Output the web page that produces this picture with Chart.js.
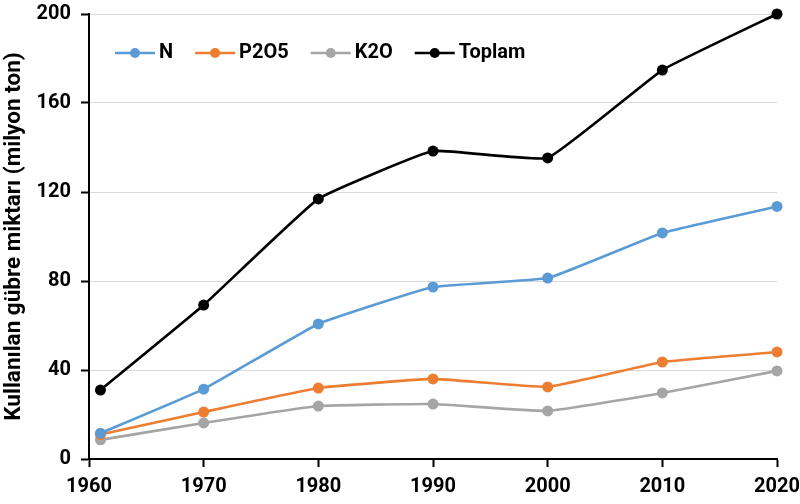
<!DOCTYPE html>
<html>
<head>
<meta charset="utf-8">
<script src="https://cdn.jsdelivr.net/npm/chart.js@4/dist/chart.umd.min.js"></script>
<style>
  html, body { margin: 0; padding: 0; background: #fff; }
  #wrap { width: 800px; height: 504px; position: relative; }
</style>
</head>
<body>
<div id="wrap"><canvas id="c" width="800" height="504"></canvas></div>
<script>
// Fertilizer use by year (million tonnes)
const years   = [1961, 1970, 1980, 1990, 2000, 2010, 2020];
const nValues = [11.6, 31.4, 60.7, 77.3, 81.3, 101.6, 113.5];
const pValues = [11.0, 21.1, 31.9, 36.0, 32.4, 43.6, 48.1];
const kValues = [8.6, 16.2, 23.8, 24.7, 21.6, 29.7, 39.6];
const total   = [31.0, 69.2, 116.9, 138.4, 135.3, 174.8, 200.0];

const seriesNames = ['N', 'P2O5', 'K2O', 'Toplam'];
const seriesColors = ['#5B9BD5', '#ED7D31', '#A5A5A5', '#000000'];
const yAxisTitle = 'Kullanılan gübre miktarı (milyon ton)';

const FONT = 'Roboto';

function makeSet(name, values, color) {
  return {
    label: name,
    data: years.map((y, i) => ({ x: y, y: values[i] })),
    borderColor: color,
    backgroundColor: color,
    borderWidth: 2.6,
    pointRadius: 5.5,
    pointHoverRadius: 5.5,
    pointBorderWidth: 0,
    tension: 0.1,
    clip: false
  };
}

// Legend drawn inside the plot area: line + dot marker followed by bold text
const insideLegend = {
  id: 'insideLegend',
  afterDraw(chart) {
    const ctx = chart.ctx;
    ctx.save();
    ctx.font = 'bold 20px ' + FONT;
    ctx.textBaseline = 'middle';
    let x = 115;
    const y = 53;
    chart.data.datasets.forEach(ds => {
      ctx.strokeStyle = ds.borderColor;
      ctx.lineWidth = 2.5;
      ctx.beginPath();
      ctx.moveTo(x, y);
      ctx.lineTo(x + 40, y);
      ctx.stroke();
      ctx.fillStyle = ds.borderColor;
      ctx.beginPath();
      ctx.arc(x + 20, y, 5, 0, Math.PI * 2);
      ctx.fill();
      ctx.fillStyle = '#000';
      ctx.fillText(ds.label, x + 44, y);
      x += 44 + ctx.measureText(ds.label).width + 22;
    });
    ctx.restore();
  }
};

new Chart(document.getElementById('c'), {
  type: 'line',
  data: {
    datasets: [
      makeSet(seriesNames[0], nValues, seriesColors[0]),
      makeSet(seriesNames[1], pValues, seriesColors[1]),
      makeSet(seriesNames[2], kValues, seriesColors[2]),
      makeSet(seriesNames[3], total, seriesColors[3])
    ]
  },
  options: {
    responsive: false,
    animation: false,
    events: [],
    layout: { padding: { top: 14, right: 23, left: 0, bottom: 0 } },
    plugins: {
      legend: { display: false },
      tooltip: { enabled: false }
    },
    scales: {
      x: {
        type: 'linear',
        min: 1960,
        max: 2020,
        afterFit(s) {
          s.height = 45;
          s.paddingLeft = 0;
          s.paddingRight = 0;
        },
        ticks: {
          stepSize: 10,
          color: '#000',
          padding: 8,
          font: { family: FONT, size: 20, weight: 'bold' },
          callback: v => String(v)
        },
        grid: {
          drawOnChartArea: false,
          drawTicks: true,
          tickLength: 8,
          tickColor: '#000',
          tickWidth: 2
        },
        border: { color: '#000', width: 2 }
      },
      y: {
        min: 0,
        max: 200,
        afterFit(s) {
          s.width = 89;
          s.paddingTop = 0;
          s.paddingBottom = 0;
        },
        ticks: {
          stepSize: 40,
          color: '#000',
          padding: 10,
          font: { family: FONT, size: 20, weight: 'bold' }
        },
        grid: {
          color: '#d9d9d9',
          lineWidth: 1,
          drawTicks: true,
          tickLength: 8,
          tickColor: '#000',
          tickWidth: 2
        },
        border: { color: '#000', width: 2 },
        title: {
          display: true,
          text: yAxisTitle,
          color: '#000',
          font: { family: FONT, size: 22.5, weight: 'bold' },
          padding: { top: 1, bottom: 0 }
        }
      }
    }
  },
  plugins: [insideLegend]
});
</script>
</body>
</html>
